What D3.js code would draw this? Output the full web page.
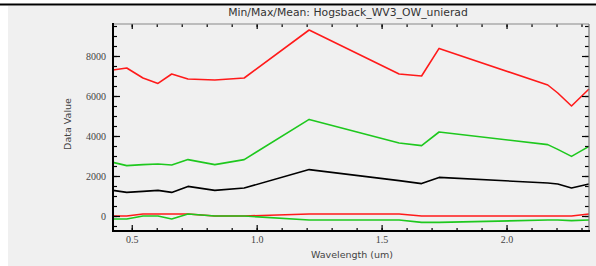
<!DOCTYPE html>
<html>
<head>
<meta charset="utf-8">
<script src="https://cdn.jsdelivr.net/npm/d3@7"></script>
<style>
html,body{margin:0;padding:0;background:#ffffff;}
svg{display:block;}
</style>
</head>
<body>
<svg id="chart" width="596" height="266"></svg>
<script>
// Data (WorldView-3 VNIR + SWIR band centres, microns)
const wavelengths = [0.425, 0.480, 0.545, 0.605, 0.660, 0.725, 0.8325, 0.950, 1.210, 1.570, 1.660, 1.730, 2.165, 2.205, 2.260, 2.330];
const maxValues   = [7300, 7400, 6900, 6630, 7100, 6850, 6800, 6900, 9300, 7100, 7000, 8380, 6550, 6150, 5500, 6350];
const stdUpper    = [2680, 2520, 2570, 2600, 2550, 2820, 2570, 2820, 4830, 3650, 3520, 4200, 3570, 3330, 2980, 3480];
const meanValues  = [1280, 1180, 1230, 1280, 1180, 1480, 1280, 1400, 2320, 1770, 1620, 1930, 1650, 1600, 1400, 1600];
const minValues   = [0, 0, 100, 100, 100, 100, 0, 0, 100, 100, 0, 0, 0, 0, 0, 100];
const stdLower    = [-150, -150, 0, 0, -150, 100, 0, 0, -200, -200, -320, -320, -200, -200, -230, -200];
const yTickLabels = [0, 2000, 4000, 6000, 8000];
const xTickLabels = [0.5, 1.0, 1.5, 2.0];
const titleText = "Min/Max/Mean: Hogsback_WV3_OW_unierad";
const xLabel = "Wavelength (um)";
const yLabel = "Data Value";

const svg = d3.select("#chart");
const W = 596, H = 266;
const L = 113, R = 589, T = 24, B = 231;

// panel
svg.append("rect").attr("x", 8).attr("y", 6).attr("width", W - 8).attr("height", H - 6).attr("fill", "#f0f0f0");
svg.append("line").attr("x1", 0).attr("x2", W).attr("y1", 4.5).attr("y2", 4.5).attr("stroke", "#000").attr("stroke-width", 2);

const x = d3.scaleLinear().domain([0.425, 2.33]).range([L, R]);
const y = d3.scaleLinear().domain([-750, 9600]).range([B, T]);

// series
const series = [
  {v: minValues, c: "#ff1a1a"},
  {v: stdLower, c: "#1ec81e"},
  {v: meanValues, c: "#000000"},
  {v: stdUpper, c: "#1ec81e"},
  {v: maxValues, c: "#ff1a1a"}
];
const line = d3.line().x((d, i) => x(wavelengths[i])).y(d => y(d));
series.forEach(s => {
  svg.append("path").attr("d", line(s.v)).attr("fill", "none")
    .attr("stroke", s.c).attr("stroke-width", 1.6).attr("stroke-linejoin", "round");
});

// axes
const xMinor = d3.range(5, 24).map(d => d / 10);
const yMinor = d3.range(-500, 9600, 500);

const gBottom = svg.append("g").attr("transform", `translate(0,${B})`);
gBottom.call(d3.axisBottom(x).tickValues(xMinor).tickSize(-3).tickFormat(""));
gBottom.append("g").call(d3.axisBottom(x).tickValues(xTickLabels).tickSize(-6).tickFormat(""));
gBottom.append("g").call(d3.axisBottom(x).tickValues(xTickLabels).tickSize(0).tickPadding(5).tickFormat(d3.format(".1f")));

const gTop = svg.append("g").attr("transform", `translate(0,${T})`);
gTop.call(d3.axisTop(x).tickValues(xMinor).tickSize(-3).tickFormat(""));
gTop.append("g").call(d3.axisTop(x).tickValues(xTickLabels).tickSize(-5).tickFormat(""));

const gLeft = svg.append("g").attr("transform", `translate(${L},0)`);
gLeft.call(d3.axisLeft(y).tickValues(yMinor).tickSize(-4).tickFormat(""));
gLeft.append("g").call(d3.axisLeft(y).tickValues(yTickLabels).tickSize(-7).tickFormat(""));
gLeft.append("g").call(d3.axisLeft(y).tickValues(yTickLabels).tickSize(0).tickPadding(7).tickFormat(d3.format("d")));

const gRight = svg.append("g").attr("transform", `translate(${R},0)`);
gRight.call(d3.axisRight(y).tickValues(yMinor).tickSize(-4).tickFormat(""));
gRight.append("g").call(d3.axisRight(y).tickValues(yTickLabels).tickSize(-7).tickFormat(""));

svg.selectAll(".domain").attr("stroke", "none");
svg.selectAll(".tick line").attr("stroke", "#000").attr("stroke-width", 1.2);
svg.selectAll(".tick text").attr("font-family", "'Liberation Serif', 'DejaVu Serif', serif")
  .attr("font-size", 10).attr("fill", "#444");

// frame
svg.append("line").attr("x1", L).attr("x2", R).attr("y1", T).attr("y2", T).attr("stroke", "#888").attr("stroke-width", 1);
svg.append("line").attr("x1", R).attr("x2", R).attr("y1", T).attr("y2", B).attr("stroke", "#777").attr("stroke-width", 1.2);
svg.append("line").attr("x1", L).attr("x2", L).attr("y1", T - 1).attr("y2", B + 1).attr("stroke", "#000").attr("stroke-width", 2);
svg.append("line").attr("x1", L - 1).attr("x2", R + 1).attr("y1", B).attr("y2", B).attr("stroke", "#000").attr("stroke-width", 2);

// titles
svg.append("text").attr("x", 348).attr("y", 16).attr("text-anchor", "middle")
  .attr("font-family", "'DejaVu Sans', sans-serif").attr("font-size", 10.8).attr("fill", "#333").text(titleText);
svg.append("text").attr("x", 352).attr("y", 258).attr("text-anchor", "middle")
  .attr("font-family", "'DejaVu Sans', sans-serif").attr("font-size", 9.5).attr("fill", "#444").text(xLabel);
svg.append("text").attr("transform", "translate(71,124) rotate(-90)").attr("text-anchor", "middle")
  .attr("font-family", "'DejaVu Sans', sans-serif").attr("font-size", 9.5).attr("fill", "#444").text(yLabel);
</script>
</body>
</html>
